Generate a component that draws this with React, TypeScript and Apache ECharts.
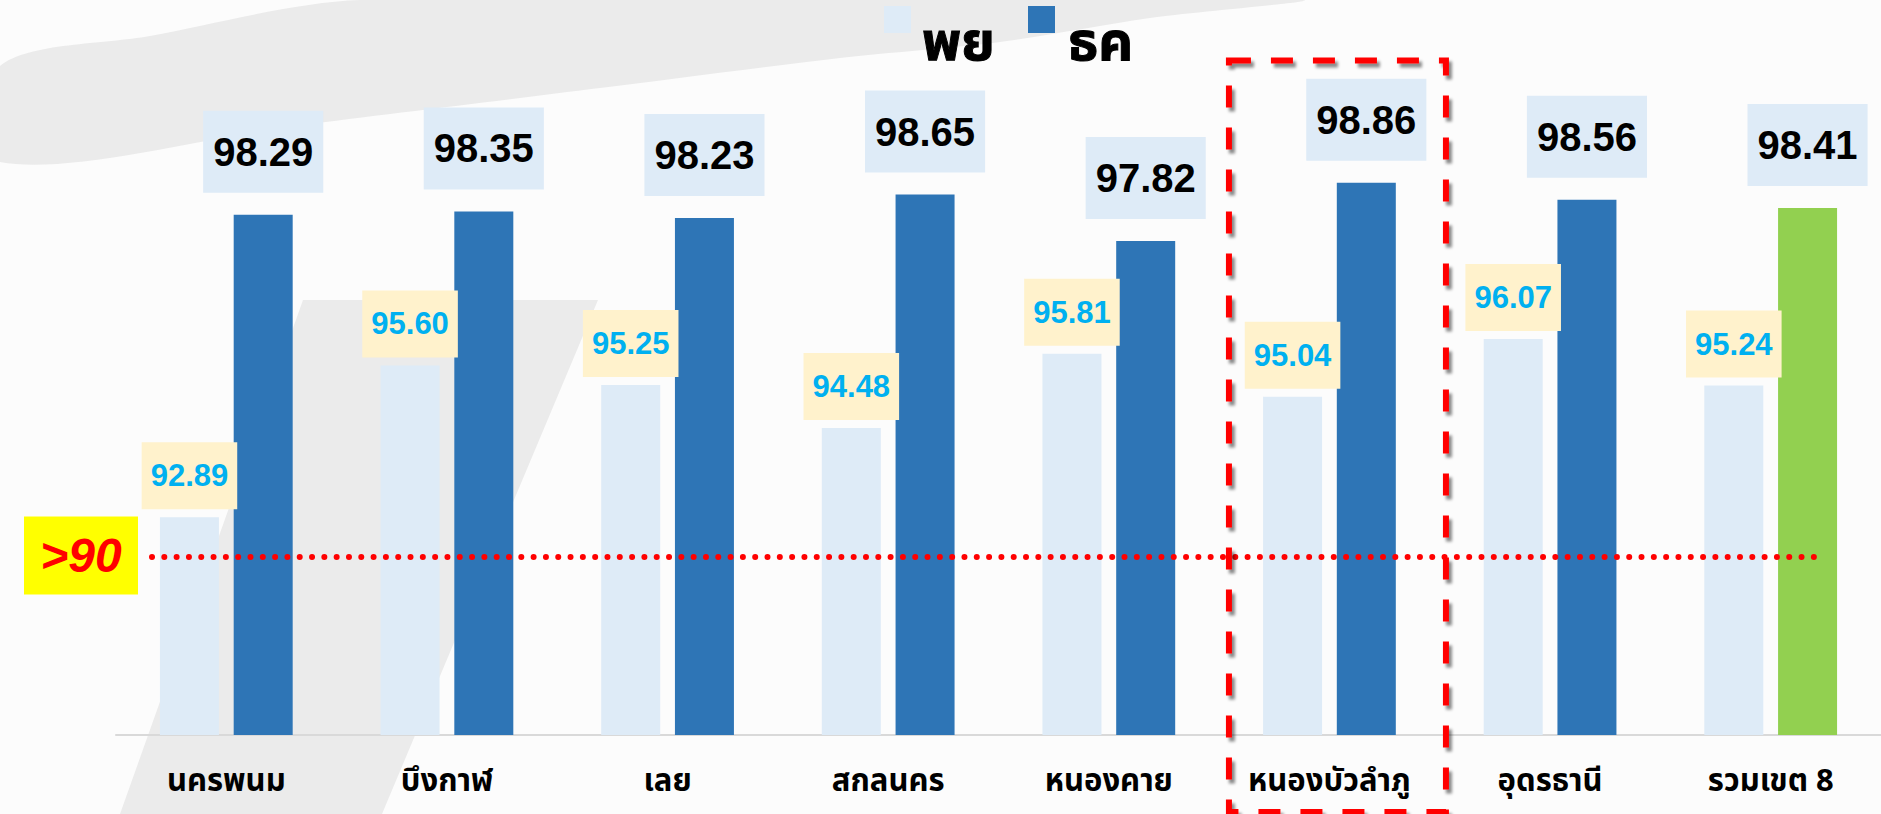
import { useEffect, useRef } from 'react';
import * as echarts from 'echarts';

// ---- data ----
const categories = ['นครพนม', 'บึงกาฬ', 'เลย', 'สกลนคร', 'หนองคาย', 'หนองบัวลำภู', 'อุดรธานี', 'รวมเขต 8'];
const seriesNames = ['พย', 'ธค'];
const novValues = [92.89, 95.6, 95.25, 94.48, 95.81, 95.04, 96.07, 95.24];
const decValues = [98.29, 98.35, 98.23, 98.65, 97.82, 98.86, 98.56, 98.41];
const yMin = 89;
const yMax = 100;
const refLineValue = 92.18;
const refLineLabel = '>90';
const highlightIndex = 5;
const totalIndex = 7;

const COLORS = ['#DEEBF7', '#2E75B6'];
const TOTAL_COLOR = '#92D050';
const THAI = "'Noto Sans Thai', 'Noto Sans Thai UI', 'Noto Sans', Loma, Garuda, sans-serif";
const NUM = "'Liberation Sans', Arial, Helvetica, sans-serif";
const WATERMARK = '#EBEBEB';

export default function App() {
  const ref = useRef<HTMLDivElement>(null);
  useEffect(() => {
    const chart = echarts.init(ref.current!, null, { renderer: 'svg' });
    chart.setOption({
      animation: false,
      backgroundColor: '#FCFCFC',
      grid: { left: 116, right: -5, top: 119, bottom: 79, containLabel: false },
      legend: { show: false, data: seriesNames },
      xAxis: {
        type: 'category',
        data: categories,
        z: 3,
        axisLine: { lineStyle: { color: '#D9D9D9', width: 2 } },
        axisTick: { show: false },
        axisLabel: {
          interval: 0,
          margin: 31,
          fontFamily: THAI,
          fontSize: 31,
          fontWeight: 'bold',
          color: '#000',
        },
      },
      yAxis: {
        type: 'value',
        min: yMin,
        max: yMax,
        show: false,
        splitLine: { show: false },
      },
      series: [
        {
          name: seriesNames[0],
          type: 'bar',
          z: 3,
          data: novValues,
          barWidth: 59,
          barGap: '25%',
          itemStyle: { color: COLORS[0] },
          label: {
            show: true,
            position: 'top',
            distance: 8,
            formatter: (p: any) => Number(p.value).toFixed(2),
            color: '#00B0F0',
            fontFamily: NUM,
            fontSize: 31,
            fontWeight: 'bold',
            lineHeight: 31,
            backgroundColor: '#FFF2CC',
            padding: [18, 9],
          },
        },
        {
          name: seriesNames[1],
          type: 'bar',
          z: 3,
          data: decValues.map((v, i) =>
            i === totalIndex ? { value: v, itemStyle: { color: TOTAL_COLOR } } : v
          ),
          barWidth: 59,
          barGap: '25%',
          itemStyle: { color: COLORS[1] },
          label: {
            show: true,
            position: 'top',
            distance: 22,
            formatter: (p: any) => Number(p.value).toFixed(2),
            color: '#000',
            fontFamily: NUM,
            fontSize: 40,
            fontWeight: 'bold',
            lineHeight: 40,
            backgroundColor: '#DEEBF7',
            padding: [21, 10],
          },
        },
      ],
    });

    const yRef = chart.convertToPixel({ yAxisIndex: 0 }, refLineValue) as number;
    const cx = chart.convertToPixel({ xAxisIndex: 0 }, highlightIndex) as number;

    chart.setOption({
      graphic: [
        // faint watermark shapes in the background
        {
          type: 'polygon',
          z: -10,
          silent: true,
          shape: {
            points: [
              [0, 66], [150, 36], [360, 0], [1300, 0], [1150, 18], [1000, 42],
              [840, 58], [600, 88], [300, 125], [0, 162],
            ],
            smooth: 0.3,
          },
          style: { fill: WATERMARK },
        },
        {
          type: 'polygon',
          z: -10,
          silent: true,
          shape: {
            points: [[120, 814], [382, 814], [598, 300], [303, 300]],
          },
          style: { fill: WATERMARK },
        },
        // legend
        {
          type: 'rect',
          z: 20,
          shape: { x: 884, y: 6, width: 27, height: 27 },
          style: { fill: COLORS[0] },
        },
        {
          type: 'text',
          z: 20,
          x: 922,
          y: 16,
          style: {
            text: seriesNames[0],
            fill: '#000',
            font: 'bold 54px ' + THAI,
            align: 'left',
            verticalAlign: 'top',
            stroke: '#000',
            lineWidth: 1,
          },
        },
        {
          type: 'rect',
          z: 20,
          shape: { x: 1028, y: 6, width: 27, height: 27 },
          style: { fill: COLORS[1] },
        },
        {
          type: 'text',
          z: 20,
          x: 1068,
          y: 16,
          style: {
            text: seriesNames[1],
            fill: '#000',
            font: 'bold 54px ' + THAI,
            align: 'left',
            verticalAlign: 'top',
            stroke: '#000',
            lineWidth: 1,
          },
        },
        // reference line
        {
          type: 'line',
          z: 50,
          shape: { x1: 152, y1: yRef, x2: 1821, y2: yRef },
          style: { stroke: '#FF0000', lineWidth: 6, lineDash: [0.01, 12.3], lineCap: 'round' },
        },
        {
          type: 'rect',
          z: 50,
          shape: { x: 24, y: yRef - 40.5, width: 114, height: 78 },
          style: { fill: '#FFFF00' },
        },
        {
          type: 'text',
          z: 51,
          x: 81,
          y: yRef - 1.5,
          style: {
            text: refLineLabel,
            fill: '#FF0000',
            font: 'italic bold 48px ' + NUM,
            align: 'center',
            verticalAlign: 'middle',
          },
        },
        // highlight box
        {
          type: 'rect',
          z: 60,
          shape: { x: cx - 100.5, y: 60.5, width: 217, height: 751.5 },
          style: {
            fill: 'none',
            stroke: '#FF0000',
            lineWidth: 6,
            lineDash: [22, 20],
            shadowBlur: 3,
            shadowColor: 'rgba(0,0,0,0.45)',
            shadowOffsetX: 3,
            shadowOffsetY: 4,
          },
        },
      ],
    });
    return () => chart.dispose();
  }, []);
  return (
    <div
      ref={ref}
      style={{ position: 'absolute', left: 0, top: 0, width: 1881, height: 814 }}
    />
  );
}
